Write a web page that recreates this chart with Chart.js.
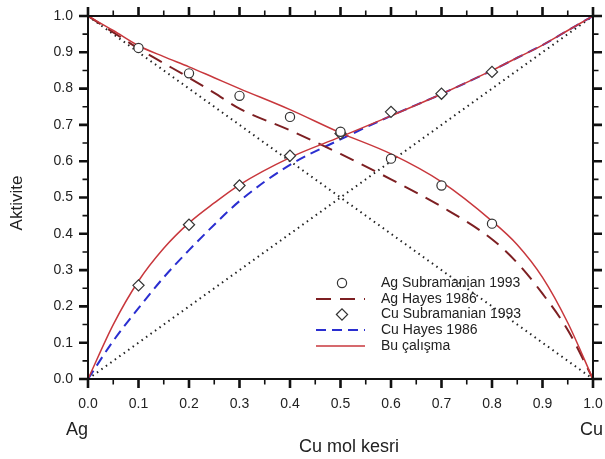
<!DOCTYPE html>
<html lang="tr">
<head>
  <meta charset="UTF-8" />
  <title>Aktivite - Cu mol kesri</title>
  <script src="https://cdn.jsdelivr.net/npm/chart.js@4.4.1/dist/chart.umd.min.js"></script>
  <style>
    * { box-sizing: border-box; margin: 0; padding: 0; }
    body { background: #fff; width: 605px; height: 459px; overflow: hidden; }
    canvas { display: block; }
  </style>
</head>
<body>
  <canvas id="aktChart" width="605" height="459"></canvas>

  <script>
    // x noktalari (Cu mol kesri) - egriler icin
    const xCurve = [0, 0.05, 0.1, 0.15, 0.2, 0.25, 0.3, 0.4, 0.5, 0.6, 0.7, 0.8, 0.85, 0.9, 0.95, 1];
    // Bu calisma
    const agBu = [1, 0.96, 0.918, 0.888, 0.86, 0.83, 0.80, 0.742, 0.678, 0.62, 0.543, 0.435, 0.37, 0.28, 0.155, 0];
    const cuBu = [0, 0.15, 0.27, 0.36, 0.43, 0.485, 0.535, 0.61, 0.667, 0.725, 0.785, 0.85, 0.885, 0.92, 0.96, 1];
    // Hayes 1986
    const agHayes = [1, 0.955, 0.91, 0.87, 0.83, 0.788, 0.745, 0.685, 0.62, 0.55, 0.475, 0.385, 0.32, 0.235, 0.135, 0];
    const cuHayes = [0, 0.105, 0.195, 0.28, 0.355, 0.425, 0.49, 0.59, 0.66, 0.725, 0.785, 0.85, 0.885, 0.92, 0.96, 1];
    // Subramanian 1993 (deneysel)
    const xSub = [0.1, 0.2, 0.3, 0.4, 0.5, 0.6, 0.7, 0.8];
    const agSub = [0.912, 0.842, 0.78, 0.722, 0.681, 0.607, 0.533, 0.428];
    const cuSub = [0.258, 0.425, 0.533, 0.615, 0.676, 0.736, 0.786, 0.846];
    // ideal (Raoult) cizgileri
    const xIdeal = [0, 1];
    const agIdeal = [1, 0];
    const cuIdeal = [0, 1];

    const xTicks = [0, 0.1, 0.2, 0.3, 0.4, 0.5, 0.6, 0.7, 0.8, 0.9, 1.0];

    const RED = '#c8373c';
    const DARKRED = '#7d1f22';
    const BLUE = '#2a2ed0';
    const FONT = "'Liberation Sans', Arial, sans-serif";

    const pts = (xs, ys) => xs.map((x, i) => ({ x: x, y: ys[i] }));

    const datasets = [
      { label: 'Ag Subramanian 1993', data: pts(xSub, agSub), showLine: false,
        pointStyle: 'circle', pointRadius: 4.6, pointBorderColor: '#333', pointBackgroundColor: '#fff', pointBorderWidth: 1.2, order: 0 },
      { label: 'Cu Subramanian 1993', data: pts(xSub, cuSub), showLine: false,
        pointStyle: 'rectRot', pointRadius: 5.6, pointBorderColor: '#333', pointBackgroundColor: '#fff', pointBorderWidth: 1.2, order: 1 },
      { label: 'Bu çalışma', data: pts(xCurve, agBu), borderColor: RED, borderWidth: 1.5, pointRadius: 0, cubicInterpolationMode: 'monotone', order: 2 },
      { label: 'Bu çalışma (Cu)', data: pts(xCurve, cuBu), borderColor: RED, borderWidth: 1.5, pointRadius: 0, cubicInterpolationMode: 'monotone', order: 3 },
      { label: 'Ag Hayes 1986', data: pts(xCurve, agHayes), borderColor: DARKRED, borderWidth: 2, borderDash: [15, 9], pointRadius: 0, cubicInterpolationMode: 'monotone', order: 4 },
      { label: 'Cu Hayes 1986', data: pts(xCurve, cuHayes), borderColor: BLUE, borderWidth: 2, borderDash: [10, 6], pointRadius: 0, cubicInterpolationMode: 'monotone', order: 5 },
      { label: 'ideal Ag', data: pts(xIdeal, agIdeal), borderColor: '#222', borderWidth: 2, borderDash: [1.5, 4], pointRadius: 0, order: 6 },
      { label: 'ideal Cu', data: pts(xIdeal, cuIdeal), borderColor: '#222', borderWidth: 2, borderDash: [1.5, 4], pointRadius: 0, order: 7 }
    ];

    // legend entries (inside the plot)
    const legendItems = [
      { text: 'Ag Subramanian 1993', kind: 'point', ds: 0 },
      { text: 'Ag Hayes 1986', kind: 'line', ds: 4 },
      { text: 'Cu Subramanian 1993', kind: 'point', ds: 1 },
      { text: 'Cu Hayes 1986', kind: 'line', ds: 5 },
      { text: 'Bu çalışma', kind: 'line', ds: 2 }
    ];

    const framePlugin = {
      id: 'frame',
      afterDraw(chart) {
        const c = chart.ctx;
        const a = chart.chartArea;
        const xs = chart.scales.x, ys = chart.scales.y;
        c.save();
        c.strokeStyle = '#111';
        c.lineCap = 'butt';

        // ticks every 0.05, outward on all four sides
        for (let i = 0; i <= 20; i++) {
          const v = i / 20;
          const major = i % 2 === 0;
          const len = major ? 9 : 5.5;
          c.lineWidth = major ? 2.6 : 1.6;
          const px = xs.getPixelForValue(v);
          const py = ys.getPixelForValue(v);
          c.beginPath();
          c.moveTo(px, a.bottom); c.lineTo(px, a.bottom + len);
          c.moveTo(px, a.top); c.lineTo(px, a.top - len);
          c.moveTo(a.left, py); c.lineTo(a.left - len, py);
          c.moveTo(a.right, py); c.lineTo(a.right + len, py);
          c.stroke();
        }
        c.lineWidth = 2;
        c.strokeRect(a.left, a.top, a.right - a.left, a.bottom - a.top);

        // legend
        c.font = '14px ' + FONT;
        c.fillStyle = '#222';
        c.textBaseline = 'middle';
        const rowY = [283, 299, 314.5, 330, 346];
        legendItems.forEach((it, k) => {
          const y = rowY[k];
          const ds = datasets[it.ds];
          if (it.kind === 'line') {
            c.save();
            c.strokeStyle = ds.borderColor;
            c.lineWidth = ds.borderWidth;
            c.setLineDash(ds.borderDash || []);
            c.beginPath(); c.moveTo(316, y); c.lineTo(365, y); c.stroke();
            c.restore();
          } else {
            c.save();
            c.fillStyle = '#fff'; c.strokeStyle = '#333'; c.lineWidth = ds.pointBorderWidth;
            Chart.helpers.drawPoint(c, { pointStyle: ds.pointStyle, radius: ds.pointRadius, borderWidth: ds.pointBorderWidth, rotation: 0 }, 342, y);
            c.restore();
          }
          c.fillText(it.text, 381, y);
        });

        // axis titles and end labels
        c.font = '18px ' + FONT;
        c.textAlign = 'center';
        c.fillText('Cu mol kesri', 349, 447);
        c.textAlign = 'left';
        c.fillText('Ag', 66, 430);
        c.textAlign = 'right';
        c.fillText('Cu', 603, 430);
        c.translate(17, 203);
        c.rotate(-Math.PI / 2);
        c.textAlign = 'center';
        c.font = '17px ' + FONT;
        c.fillText('Aktivite', 0, 0);
        c.restore();
      }
    };

    new Chart(document.getElementById('aktChart'), {
      type: 'line',
      data: { datasets: datasets },
      options: {
        responsive: false,
        animation: false,
        layout: { padding: { top: 16, right: 12, left: 0, bottom: 0 } },
        plugins: { legend: { display: false }, tooltip: { enabled: false } },
        scales: {
          x: {
            type: 'linear', min: 0, max: 1,
            afterFit(s) { s.height = 80; s.paddingLeft = 0; s.paddingRight = 0; },
            afterBuildTicks(s) { s.ticks = xTicks.map(v => ({ value: v })); },
            grid: { display: false, drawTicks: false },
            border: { display: false },
            ticks: { padding: 17, color: '#222', font: { size: 14, family: FONT },
                     callback: v => v.toFixed(1), maxRotation: 0, autoSkip: false }
          },
          y: {
            type: 'linear', min: 0, max: 1,
            afterFit(s) { s.width = 88; s.paddingTop = 0; s.paddingBottom = 0; },
            afterBuildTicks(s) { s.ticks = xTicks.map(v => ({ value: v })); },
            grid: { display: false, drawTicks: false },
            border: { display: false },
            ticks: { padding: 15, color: '#222', font: { size: 14, family: FONT },
                     callback: v => v.toFixed(1), autoSkip: false }
          }
        }
      },
      plugins: [framePlugin]
    });
  </script>
</body>
</html>
